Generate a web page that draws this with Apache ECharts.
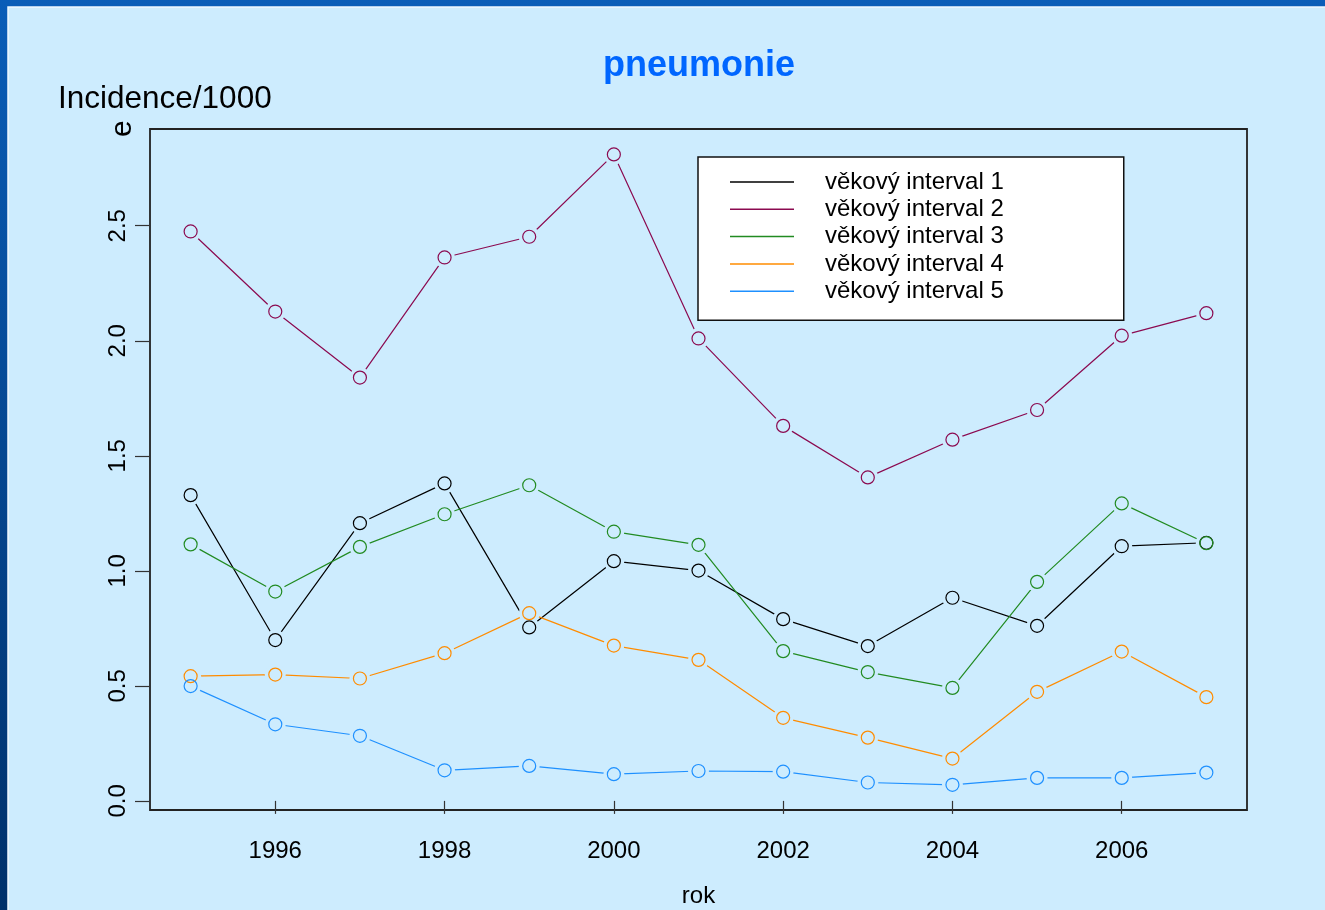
<!DOCTYPE html>
<html>
<head>
<meta charset="utf-8">
<title>pneumonie</title>
<script src="https://cdn.jsdelivr.net/npm/echarts@6/dist/echarts.min.js"></script>
<style>
  html, body { margin: 0; padding: 0; }
  #chart { width: 1325px; height: 910px; }
</style>
</head>
<body>
<div id="chart"></div>
<script>
// roky na ose x
const years = [1995, 1996, 1997, 1998, 1999, 2000, 2001, 2002, 2003, 2004, 2005, 2006, 2007];
const xTicks = [1996, 1998, 2000, 2002, 2004, 2006];
const yTicks = [0, 0.5, 1.0, 1.5, 2.0, 2.5];

const seriesNames = ['věkový interval 1', 'věkový interval 2', 'věkový interval 3', 'věkový interval 4', 'věkový interval 5'];
const seriesColors = ['#000000', '#8b0a50', '#228b22', '#ff8c00', '#1e90ff'];

// incidence na 1000
const interval1 = [1.329, 0.699, 1.207, 1.380, 0.754, 1.042, 1.001, 0.790, 0.673, 0.883, 0.761, 1.107, 1.122];
const interval2 = [2.475, 2.127, 1.840, 2.362, 2.452, 2.810, 2.010, 1.630, 1.406, 1.570, 1.699, 2.022, 2.120];
const interval3 = [1.115, 0.910, 1.104, 1.246, 1.372, 1.170, 1.113, 0.651, 0.560, 0.491, 0.952, 1.293, 1.120];
const interval4 = [0.542, 0.549, 0.532, 0.642, 0.816, 0.675, 0.613, 0.361, 0.275, 0.184, 0.474, 0.649, 0.451];
const interval5 = [0.499, 0.333, 0.283, 0.133, 0.152, 0.116, 0.130, 0.127, 0.080, 0.070, 0.100, 0.100, 0.123];

const allValues = [interval1, interval2, interval3, interval4, interval5];
const panelColor = '#cdecfe';
const font = '"Liberation Sans", Arial';

const chart = echarts.init(document.getElementById('chart'));

const pairs = (vals) => years.map((y, i) => [y, vals[i]]);

const lineSeries = allValues.map((vals, i) => ({
  name: seriesNames[i],
  type: 'line',
  data: pairs(vals),
  symbol: 'none',
  z: 2,
  silent: true,
  lineStyle: { color: seriesColors[i], width: 1.2 },
  itemStyle: { color: seriesColors[i] }
}));

// podklad pod krouzky, aby cara mela mezeru jako v R (type = "b")
const maskSeries = allValues.map((vals, i) => ({
  name: 'mask' + i,
  type: 'scatter',
  data: pairs(vals),
  symbol: 'circle',
  symbolSize: 21,
  z: 3,
  silent: true,
  itemStyle: { color: panelColor, opacity: 1 }
}));

const ringSeries = allValues.map((vals, i) => ({
  name: 'ring' + i,
  type: 'scatter',
  data: pairs(vals),
  symbol: 'circle',
  symbolSize: 13,
  z: 4,
  silent: true,
  itemStyle: { color: 'transparent', borderColor: seriesColors[i], borderWidth: 1.2, opacity: 1 }
}));

chart.setOption({
  animation: false,
  backgroundColor: {
    type: 'linear', x: 0, y: 0, x2: 0, y2: 1,
    colorStops: [{ offset: 0, color: '#0a5db8' }, { offset: 1, color: '#00306a' }]
  },
  graphic: [
    {
      type: 'rect',
      z: -10,
      shape: { x: 8, y: 7, width: 1320, height: 910 },
      style: { fill: panelColor, stroke: '#eef8ff', lineWidth: 1.5 }
    },
    {
      type: 'text',
      left: 58,
      top: 83,
      style: { text: 'Incidence/1000', font: '31.5px ' + font, fill: '#000' }
    },
    {
      type: 'text',
      x: 108,
      y: 137,
      rotation: Math.PI / 2,
      style: { text: 'e', font: '30px ' + font, fill: '#000' }
    }
  ],
  title: {
    text: 'pneumonie',
    left: 598,
    top: 43,
    textStyle: { color: '#0066ff', fontSize: 36, fontWeight: 'bold', fontFamily: font }
  },
  legend: {
    orient: 'vertical',
    left: 698,
    top: 157,
    data: seriesNames,
    icon: 'rect',
    itemWidth: 64,
    itemHeight: 1.5,
    itemGap: 3.3,
    padding: [13, 120, 17, 32],
    backgroundColor: '#ffffff',
    borderColor: '#111',
    borderWidth: 1.5,
    borderRadius: 0,
    selectedMode: false,
    itemStyle: { borderWidth: 0 },
    textStyle: { fontSize: 24, lineHeight: 24, color: '#000', fontFamily: font, padding: [0, 0, 0, 26] }
  },
  grid: {
    left: 150,
    top: 129,
    right: 78,
    bottom: 100,
    outerBoundsMode: 'none',
    containLabel: false,
    show: true,
    backgroundColor: 'transparent',
    borderColor: '#222',
    borderWidth: 1.8
  },
  xAxis: {
    type: 'value',
    min: 1994.52,
    max: 2007.48,
    name: 'rok',
    nameLocation: 'middle',
    nameGap: 74,
    nameTextStyle: { fontSize: 24, color: '#000', fontFamily: font },
    axisLine: { show: false },
    splitLine: { show: false },
    axisTick: { show: true, customValues: xTicks, length: 13, lineStyle: { color: '#333', width: 1.2 } },
    axisLabel: {
      customValues: xTicks,
      margin: 29,
      fontSize: 24,
      color: '#000',
      fontFamily: font,
      formatter: (v) => String(v)
    }
  },
  yAxis: {
    type: 'value',
    min: -0.0396,
    max: 2.9204,
    axisLine: { show: false },
    splitLine: { show: false },
    axisTick: { show: true, customValues: yTicks, length: 15, lineStyle: { color: '#333', width: 1.2 } },
    axisLabel: {
      customValues: yTicks,
      rotate: 90,
      margin: 20,
      fontSize: 24,
      color: '#000',
      fontFamily: font,
      formatter: (v) => v.toFixed(1)
    }
  },
  series: [...lineSeries, ...maskSeries, ...ringSeries]
});
</script>
</body>
</html>
